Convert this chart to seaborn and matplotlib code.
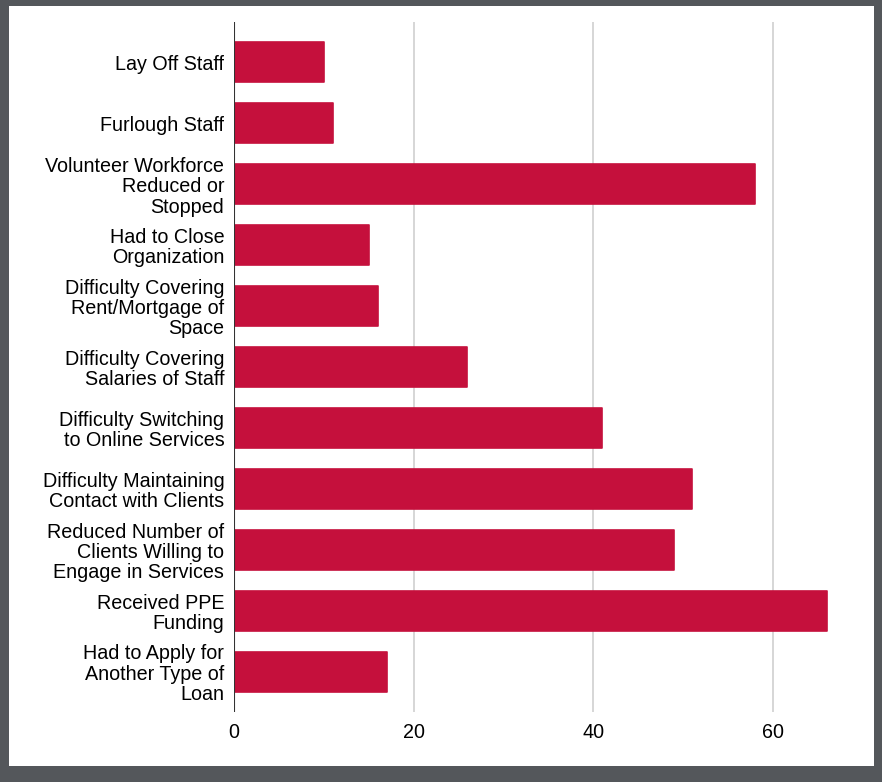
import matplotlib
matplotlib.use("Agg")
import matplotlib.pyplot as plt
from matplotlib.patches import Rectangle
import seaborn as sns
import pandas as pd

categories = [
    "Lay Off Staff",
    "Furlough Staff",
    "Volunteer Workforce\nReduced or\nStopped",
    "Had to Close\nOrganization",
    "Difficulty Covering\nRent/Mortgage of\nSpace",
    "Difficulty Covering\nSalaries of Staff",
    "Difficulty Switching\nto Online Services",
    "Difficulty Maintaining\nContact with Clients",
    "Reduced Number of\nClients Willing to\nEngage in Services",
    "Received PPE\nFunding",
    "Had to Apply for\nAnother Type of\nLoan",
]
counts = [10, 11, 58, 15, 16, 26, 41, 51, 49, 66, 17]
x_ticks = [0, 20, 40, 60]

df = pd.DataFrame({"category": categories, "count": counts})

sns.set_theme(style="white")
plt.rcParams["font.family"] = ["Liberation Sans", "DejaVu Sans"]

W, H = 882, 782
fig = plt.figure(figsize=(W / 100, H / 100), dpi=100)
fig.patch.set_facecolor("#54575b")
fig.patches.append(Rectangle((9 / W, 1 - 766 / H), (874 - 9) / W, (766 - 6) / H,
                             transform=fig.transFigure, facecolor="white",
                             edgecolor="none", zorder=-5))

ax = fig.add_axes([234 / W, 1 - 712 / H, (862.6 - 234) / W, (712 - 22) / H])
ax.set_zorder(2)
ax.set_facecolor("none")

bar_color = "#c5103c"
sns.barplot(data=df, y="category", x="count", orient="h", color=bar_color,
            width=0.657, saturation=1, ax=ax, zorder=3)
for p in ax.patches:
    p.set_edgecolor(bar_color)
    p.set_linewidth(1.2)
    p.set_joinstyle("round")

ax.set_xlim(0, 70)
ax.set_ylim(len(categories) - 1 + 0.664, -0.664)
ax.set_xticks(x_ticks)
ax.set_xticklabels([str(t) for t in x_ticks])
for t in x_ticks[1:]:
    ax.axvline(t, color="#d0d0d0", lw=1.2, zorder=1)
ax.axvline(0, color="#333333", lw=1.5, zorder=4)

for s in ax.spines.values():
    s.set_visible(False)
ax.set_xlabel("")
ax.set_ylabel("")
ax.tick_params(axis="both", length=0, labelsize=14.2, colors="#000000")
ax.tick_params(axis="y", pad=7)
ax.tick_params(axis="x", pad=8)
for lbl in ax.get_yticklabels():
    lbl.set_horizontalalignment("right")
    lbl.set_multialignment("right")
    lbl.set_linespacing(1.08)

fig.savefig("out.png", dpi=100, facecolor=fig.get_facecolor())
